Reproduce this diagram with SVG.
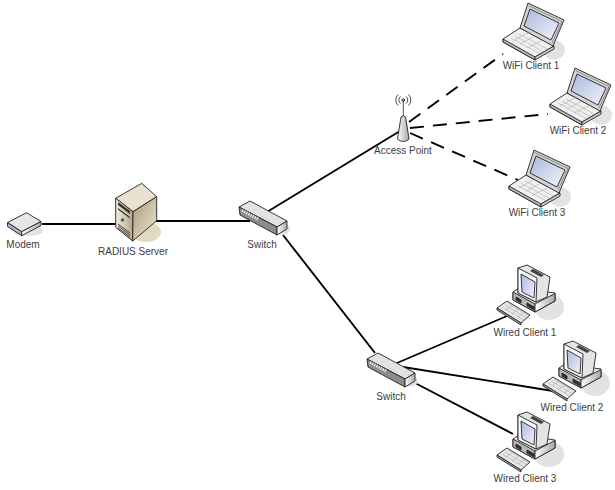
<svg xmlns="http://www.w3.org/2000/svg" width="615" height="490" viewBox="0 0 615 490">
<style>
text{font-family:"Liberation Sans",Arial,sans-serif;font-size:10px;fill:#3c3c3c;text-anchor:middle}
.c{fill:none;stroke:#000;stroke-width:1.900}
.d{stroke-dasharray:14 9}
.o{stroke:#222;stroke-width:.9;stroke-linejoin:round}
.t{stroke:#888;stroke-width:.4;fill:none}
.s{fill:#e2e2e2;stroke:none}
</style>
<defs>
<linearGradient id="sc" x1="0" y1="0" x2="1" y2="1"><stop offset="0" stop-color="#a9b8dd"/><stop offset="1" stop-color="#f2f4fb"/></linearGradient>
<linearGradient id="tan" x1="0" y1="0" x2="1" y2="0"><stop offset="0" stop-color="#f4eee0"/><stop offset="1" stop-color="#b5a684"/></linearGradient>
<linearGradient id="tan2" x1="0" y1="0" x2="1" y2="1"><stop offset="0" stop-color="#a8987a"/><stop offset="1" stop-color="#efe8d6"/></linearGradient>
<linearGradient id="gr" x1="0" y1="0" x2="1" y2="0"><stop offset="0" stop-color="#fff"/><stop offset="1" stop-color="#a8a8a8"/></linearGradient>
<symbol id="laptop" overflow="visible">
<ellipse class="s" cx="52" cy="47" rx="11" ry="10"/>
<path class="o" fill="#f0f0f0" d="M1 36L18 25L52 43L33 54L33 57L1 39Z"/>
<path class="o" fill="#bbb" d="M1 36L33 54L33 57L1 39Z"/>
<path class="o" fill="#d0d0d0" d="M33 54L52 43L52 46L33 57Z"/>
<path class="o" fill="#d4d4d4" d="M26 0L62 17L51 43L18 25Z"/>
<path fill="none" stroke="#555" stroke-width=".6" d="M26.500 2.500L60 18.500L50 40"/>
<path class="o" fill="url(#sc)" d="M28 6L57 20L49 37L22 23Z"/>
<path class="t" d="M9 35L40 52M13 33L44 50M17 31L47 47M11 38L27 29M18 41L33 33M25 45L41 37"/>
</symbol>
<symbol id="pc" overflow="visible">
<ellipse class="s" cx="52" cy="42" rx="15" ry="13"/>
<path class="o" fill="#ececec" d="M16 27L22 23L58 28L58 36L38 47L16 35Z"/>
<path class="o" fill="#b8b8b8" d="M16 27L38 39L38 47L16 35Z"/>
<path class="o" fill="url(#gr)" d="M38 39L58 28.500L58 36L38 47Z"/>
<path class="o" fill="#333" d="M19 32L24 35L24 38L19 35ZM30 38L37 42L37 45L30 41Z"/>
<path class="o" fill="#e4e4e4" d="M21 3L30 0L53 12L50 32L39 37L21 28Z"/>
<path class="o" fill="#f8f8f8" d="M21 3L40 13L39 37L21 28Z"/>
<path class="o" fill="url(#sc)" d="M24 9L38 17L37 33L25 27Z"/>
<path fill="#444" d="M36 4L47 10L44 12L33 6Z"/>
<path class="o" fill="#e8e8e8" d="M0 43L10 36L33 50L24 58Z"/>
<path class="o" fill="#aaa" d="M0 43L24 58L24 60L0 45Z"/>
<path class="t" d="M5 42L27 55M8 40L30 53M11 38L32 51M9 45L17 39M15 49L23 43M21 52L28 47"/>
</symbol>
<symbol id="switch" overflow="visible">
<ellipse class="s" cx="43" cy="28" rx="8" ry="6"/>
<path class="o" fill="#e2e2e2" d="M0 6L11 0L48 20L38 26Z"/>
<path class="o" fill="#8c8c8c" d="M0 6L38 26L38 34L1 14Z"/>
<path class="o" fill="url(#gr)" d="M38 26L48 20L48 28L38 34Z"/>
<path stroke="#f2f2f2" stroke-width="3" stroke-dasharray="1.200 1.200" d="M3 9.500L19 18" fill="none"/>
</symbol>
</defs>
<g id="connectors">
<path class="c" d="M42 224H118"/>
<path class="c" d="M155 221H250"/>
<path class="c" d="M262 215L400 131"/>
<path class="c" d="M283 235L375 353"/>
<path class="c" d="M397 363L507 316"/>
<path class="c" d="M403 367L553 391"/>
<path class="c" d="M415 383L513 434"/>
<path class="c d" d="M409 122L503 54"/>
<path class="c d" d="M410 128L548 114"/>
<path class="c d" d="M410 133L518 180"/>
</g>
<g id="modem">
<ellipse class="s" cx="28" cy="231" rx="15" ry="5"/>
<path class="o" fill="#e6e6e6" d="M7.500 222.500L26.500 212.700L41 221.500L21.700 231.700Z"/>
<path class="o" fill="#a9b0cc" d="M7.500 222.500L21.700 231.700V235.700L7.500 226.500Z"/>
<path class="o" fill="url(#gr)" d="M21.700 231.700L41 221.500V225.500L21.700 235.700Z"/>
<text x="23" y="248">Modem</text>
</g>
<g id="radius-server">
<ellipse cx="146" cy="232" rx="15" ry="10" fill="#e2d9be"/>
<path class="o" fill="#e9e2cf" d="M115.700 198.300L141.700 183.300L156.700 196.700L133 211.700Z"/>
<path class="o" fill="url(#tan)" d="M115.700 198.300L133 211.700L132.700 241L115.700 227.300Z"/>
<path class="o" fill="url(#tan2)" d="M133 211.700L156.700 196.700V220.700L132.700 241Z"/>
<path fill="#333" d="M118 202L130 211V214L118 205ZM118 208L130 217V218.500L118 209.500Z"/>
<circle cx="122.500" cy="220" r="1.700" fill="#1f6f4f"/>
<path fill="none" stroke="#444" d="M118 226L130 235M118 228L130 237M118 224L130 233"/>
<text x="133" y="255">RADIUS Server</text>
</g>
<g id="switch-1"><use href="#switch" x="239" y="201"/><text x="262" y="248">Switch</text></g>
<g id="switch-2"><use href="#switch" x="367" y="353"/><text x="391" y="400">Switch</text></g>
<g id="access-point">
<path fill="none" stroke="#222" stroke-width=".8" d="M403.300 100V117"/>
<circle cx="403.300" cy="100" r="1.300" fill="none" stroke="#222"/>
<path fill="none" stroke="#222" stroke-width=".8" d="M400.500 96.500a4.500 4.500 0 0 0 0 7M406.100 96.500a4.500 4.500 0 0 1 0 7M398 94.500a8 8 0 0 0 0 11M408.600 94.500a8 8 0 0 1 0 11"/>
<path class="o" fill="url(#gr)" d="M401 117Q403.300 114.500 405.600 117L409 139Q403.300 144 397.500 139Z"/>
<text x="403" y="154">Access Point</text>
</g>
<g id="wifi-client-1"><use href="#laptop" x="502" y="3"/><text x="531" y="69">WiFi Client 1</text></g>
<g id="wifi-client-2"><use href="#laptop" x="549" y="68"/><text x="578" y="134">WiFi Client 2</text></g>
<g id="wifi-client-3"><use href="#laptop" x="508" y="150"/><text x="537" y="216">WiFi Client 3</text></g>
<g id="wired-client-1"><use href="#pc" x="497" y="265"/><text x="525" y="336">Wired Client 1</text></g>
<g id="wired-client-2"><use href="#pc" x="543" y="341"/><text x="572" y="411">Wired Client 2</text></g>
<g id="wired-client-3"><use href="#pc" x="497" y="412"/><text x="525" y="482">Wired Client 3</text></g>
</svg>
